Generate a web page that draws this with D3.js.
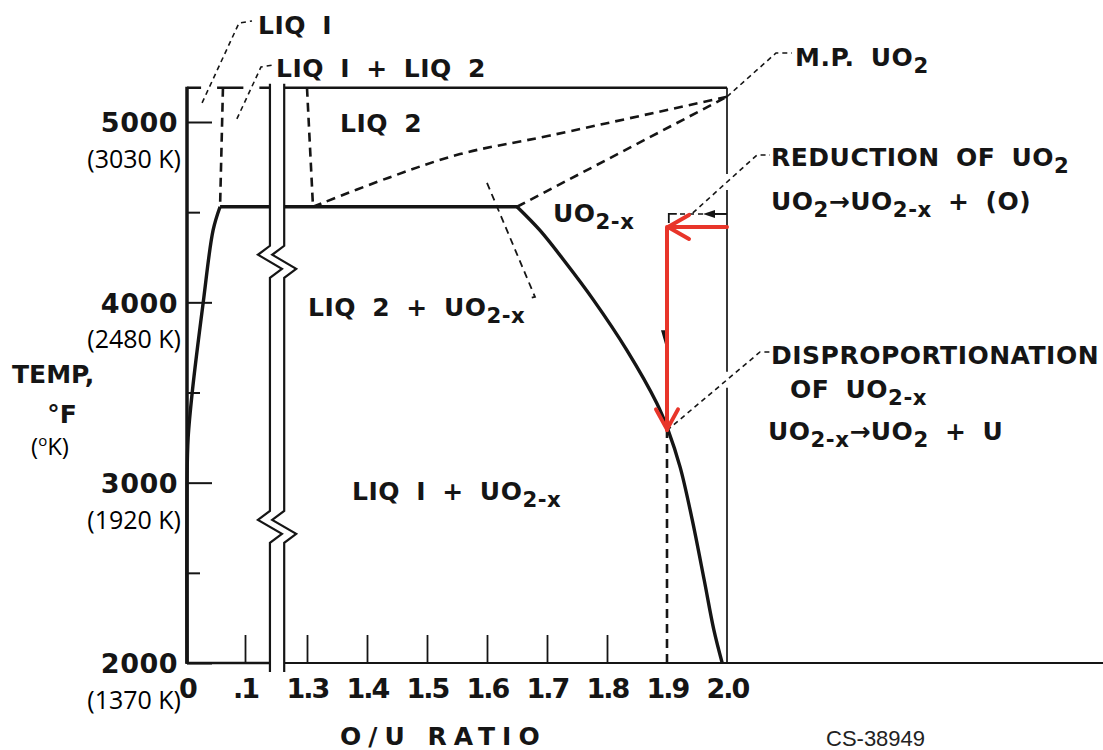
<!DOCTYPE html>
<html lang="en">
<head>
<meta charset="UTF-8">
<script src="https://d3js.org/d3.v7.min.js"></script>
<title>U - O phase diagram</title>
<style>
    body { margin: 0; background: #fff; }
</style>
</head>
<body>
<script>
    // axis values
    let yTicks = [2000, 3000, 4000, 5000];
    let yMinorTicks = [2500, 3500, 4500];
    let kelvinLabels = ["(1370 K)", "(1920 K)", "(2480 K)", "(3030 K)"];
    let xTicksLeft = [0, 0.1];
    let xTicksRight = [1.3, 1.4, 1.5, 1.6, 1.7, 1.8, 1.9, 2.0];
    let xTickMarksLeft = [0.1];
    let xTickMarksRight = [1.3, 1.4, 1.5, 1.6, 1.7, 1.8];

    // phase diagram values (O/U ratio, deg F)
    let tTop = 5190;
    let tMonotectic = 4530;
    let xBreakLeft = 0.143, xBreakRight = 1.262;
    let breakTemps = [4225, 2755];
    let liq1Boundary = [[0, 2000], [0, 3000], [0.002, 3250], [0.009, 3500], [0.028, 4000], [0.045, 4400], [0.057, 4530]];
    let uo2xBoundary = [[1.65, 4530], [1.688, 4400], [1.73, 4225], [1.777, 4015], [1.833, 3735], [1.883, 3440],
        [1.902, 3290], [1.922, 3085], [1.942, 2795], [1.962, 2460], [1.978, 2185], [1.992, 2000]];
    let liq2Liquidus = [[1.31, 4530], [1.435, 4690], [1.555, 4822], [1.705, 4925], [2.0, 5140]];
    let uo2Solidus = [[1.65, 4530], [2.0, 5140]];
    let liq1Dashed = [[0.062, 5190], [0.057, 4530]];
    let liq2Dashed = [[1.30, 5190], [1.31, 4530]];
    let liq2UoLeader = [[1.60, 4662], [1.68, 4030], [1.667, 4020]];
    let line19 = [[1.9, 2000], [1.9, 4418]];
    let reductionPath = [[2.0, 4418], [1.9, 4418], [1.9, 3290]];
    let reductionMark = [[2.0, 4490], [1.97, 4490], [1.903, 4490]];

    let labels = [
        { x: 258, y: 34, parts: ["LIQ I"] },
        { x: 276, y: 77, parts: ["LIQ I + LIQ 2"] },
        { x: 340, y: 132, parts: ["LIQ 2"] },
        { x: 795, y: 66, parts: ["M.P. UO", ["2"]] },
        { x: 771, y: 166, parts: ["REDUCTION OF UO", ["2"]] },
        { x: 771, y: 210, parts: ["UO", ["2"], "\u2192UO", ["2-x"], " + (O)"] },
        { x: 553, y: 222, parts: ["UO", ["2-x"]] },
        { x: 308, y: 316, parts: ["LIQ 2 + UO", ["2-x"]] },
        { x: 771, y: 364, parts: ["DISPROPORTIONATION"] },
        { x: 790, y: 398, parts: ["OF UO", ["2-x"]] },
        { x: 768, y: 440, parts: ["UO", ["2-x"], "\u2192UO", ["2"], " + U"] },
        { x: 352, y: 500, parts: ["LIQ I + UO", ["2-x"]] }
    ];

    let leroy = "'DejaVu Sans', sans-serif";
    let red = "#e8352a";

    let xLeft = d3.scaleLinear().domain([0, 0.1]).range([187, 245]);
    let xRight = d3.scaleLinear().domain([1.3, 2.0]).range([307, 727]);
    let xPos = v => v < 1 ? xLeft(v) : xRight(v);
    let y = d3.scaleLinear().domain([2000, 5000]).range([663, 122]);

    let line = d3.line().x(d => xPos(d[0])).y(d => y(d[1]));
    let smooth = d3.line().x(d => xPos(d[0])).y(d => y(d[1])).curve(d3.curveCatmullRom.alpha(0.5));

    let svg = d3.select("body").append("svg")
        .attr("width", 1103)
        .attr("height", 750)
        .style("background", "#fff");

    let ink = "#151515";

    // leader lines (start on the diagram, end beside the label)
    let leaders = [
        { from: [0.026, 5106], to: [[239, 23], [252, 21]] },
        { from: [0.086, 5017], to: [[261, 67], [273, 65]] },
        { from: [2.0, 5140], to: [[776, 53], [792, 53]] },
        { from: [1.943, 4496], to: [[757, 155], [770, 155]] },
        { from: [1.9, 3290], to: [[760, 352], [770, 352]] }
    ];
    let leaderPts = leaders.map(l => [[xPos(l.from[0]), y(l.from[1])]].concat(l.to));

    // where leaders cut through the frame, leave gaps
    function gapsOn(horizontal, c, lo, hi) {
        let gaps = [];
        leaderPts.forEach(pts => {
            for (let i = 0; i < pts.length - 1; i++) {
                let a = pts[i], b = pts[i + 1];
                let k = horizontal ? 1 : 0, o = horizontal ? 0 : 1;
                if ((a[k] - c) * (b[k] - c) < 0) {
                    let t = (c - a[k]) / (b[k] - a[k]);
                    let p = a[o] + t * (b[o] - a[o]);
                    if (p > lo && p < hi) gaps.push(p);
                }
            }
        });
        gaps.sort((a, b) => a - b);
        let segs = [], start = lo;
        gaps.forEach(g => { segs.push([start, g - 8]); start = g + 8; });
        segs.push([start, hi]);
        return segs;
    }

    let frame = svg.append("g").attr("stroke", ink).attr("fill", "none");
    let yTopPx = y(tTop), yBotPx = y(2000);
    let xl0 = xLeft(0), xl1 = xLeft(xBreakLeft), xr0 = xRight(xBreakRight), xr1 = xRight(2.0);

    // y axis (thick)
    frame.append("line").attr("x1", xl0).attr("x2", xl0).attr("y1", yTopPx - 1).attr("y2", yBotPx + 1)
        .attr("stroke-width", 3.5);
    // top border
    gapsOn(true, yTopPx, xl0, xl1).concat(gapsOn(true, yTopPx, xr0, xr1)).forEach(s => {
        frame.append("line").attr("x1", s[0]).attr("x2", s[1]).attr("y1", yTopPx).attr("y2", yTopPx)
            .attr("stroke-width", 2.5);
    });
    // right border at O/U = 2.0
    gapsOn(false, xr1, yTopPx, yBotPx).forEach(s => {
        frame.append("line").attr("x1", xr1).attr("x2", xr1).attr("y1", s[0]).attr("y2", s[1])
            .attr("stroke-width", 1.7);
    });
    // x axis
    frame.append("line").attr("x1", xl0).attr("x2", xl1).attr("y1", yBotPx).attr("y2", yBotPx).attr("stroke-width", 2.5);
    frame.append("line").attr("x1", xr0).attr("x2", 1103).attr("y1", yBotPx).attr("y2", yBotPx).attr("stroke-width", 2.2);

    // axis break lines with zigzags
    let zig = [[0, -16], [-12, -7], [12, 7], [0, 16]];
    [xl1, xr0].forEach(bx => {
        let pts = [[bx, yTopPx - 4]];
        breakTemps.forEach(t => zig.forEach(z => pts.push([bx + z[0], y(t) + z[1]])));
        pts.push([bx, yBotPx + 9]);
        frame.append("path").attr("d", d3.line()(pts)).attr("stroke-width", 2.2);
    });

    // y ticks
    let yAxis = svg.append("g").attr("transform", `translate(${xl0},0)`)
        .call(d3.axisLeft(y).tickValues(yTicks).tickSize(-25).tickPadding(9).tickFormat(d3.format("d")));
    let yMinor = svg.append("g").attr("transform", `translate(${xl0},0)`)
        .call(d3.axisLeft(y).tickValues(yMinorTicks).tickSize(-13).tickFormat(""));
    [yAxis, yMinor].forEach(g => {
        g.select(".domain").remove();
        g.selectAll("line").attr("stroke", ink).attr("stroke-width", 2);
    });
    yAxis.selectAll("text")
        .attr("font-family", leroy).attr("font-weight", "bold").attr("font-size", 27)
        .attr("letter-spacing", 0.5).attr("fill", ink).attr("dy", "0.36em");

    // kelvin equivalents
    svg.append("g").selectAll("text").data(yTicks).join("text")
        .attr("x", 181)
        .attr("y", d => y(d) + 46)
        .attr("text-anchor", "end")
        .attr("font-family", "'Open Sans', sans-serif")
        .attr("font-size", 25)
        .attr("fill", "#000")
        .text((d, i) => kelvinLabels[i]);

    // x ticks
    let xMarksL = svg.append("g").attr("transform", `translate(0,${yBotPx})`)
        .call(d3.axisBottom(xLeft).tickValues(xTickMarksLeft).tickSize(-28).tickFormat(""));
    let xMarksR = svg.append("g").attr("transform", `translate(0,${yBotPx})`)
        .call(d3.axisBottom(xRight).tickValues(xTickMarksRight).tickSize(-28).tickFormat(""));
    let xLabL = svg.append("g").attr("transform", `translate(0,${yBotPx})`)
        .call(d3.axisBottom(xLeft).tickValues(xTicksLeft).tickSize(0).tickPadding(16)
            .tickFormat(d => d === 0 ? "0" : String(d).replace("0.", ".")));
    let xLabR = svg.append("g").attr("transform", `translate(0,${yBotPx})`)
        .call(d3.axisBottom(xRight).tickValues(xTicksRight).tickSize(0).tickPadding(16).tickFormat(d3.format(".1f")));
    [xMarksL, xMarksR, xLabL, xLabR].forEach(g => {
        g.select(".domain").remove();
        g.selectAll("line").attr("stroke", ink).attr("stroke-width", 1.8);
        g.selectAll("text")
            .attr("font-family", leroy).attr("font-weight", "bold").attr("font-size", 27)
            .attr("letter-spacing", -2).attr("fill", ink);
    });

    // solid phase boundaries
    let bounds = svg.append("g").attr("fill", "none").attr("stroke", ink).attr("stroke-width", 3.4)
        .attr("stroke-linejoin", "round");
    bounds.append("path").attr("d", smooth(liq1Boundary));
    bounds.append("path").attr("d", smooth(uo2xBoundary));
    bounds.append("path").attr("d", line([[liq1Boundary[liq1Boundary.length - 1][0], tMonotectic], [xBreakLeft, tMonotectic]]));
    bounds.append("path").attr("d", line([[xBreakRight, tMonotectic], [uo2xBoundary[0][0], tMonotectic]]));

    // dashed boundaries
    let dashed = svg.append("g").attr("fill", "none").attr("stroke", ink).attr("stroke-width", 2.6)
        .attr("stroke-dasharray", "9,6");
    dashed.append("path").attr("d", smooth(liq2Liquidus));
    dashed.append("path").attr("d", line(uo2Solidus));
    dashed.append("path").attr("d", line(liq1Dashed));
    dashed.append("path").attr("d", line(liq2Dashed));
    dashed.append("path").attr("d", line(line19));
    dashed.append("path").attr("d", line(liq2UoLeader)).attr("stroke-width", 1.8).attr("stroke-dasharray", "7,5");

    // small arrowhead on the 1.9 line
    let ah = [xRight(1.9) - 2, y(3790)];
    svg.append("path")
        .attr("d", d3.line()([[ah[0] - 4, ah[1] - 10], [ah[0] + 3, ah[1] - 10], [ah[0], ah[1] + 4]]) + "Z")
        .attr("fill", ink);

    // reduction marker
    let rm = reductionMark.map(d => [xPos(d[0]), y(d[1])]);
    svg.append("line").attr("x1", rm[0][0]).attr("x2", rm[1][0]).attr("y1", rm[0][1]).attr("y2", rm[1][1])
        .attr("stroke", ink).attr("stroke-width", 2);
    svg.append("path")
        .attr("d", d3.line()([[rm[1][0] - 6, rm[1][1]], [rm[1][0] + 6, rm[1][1] - 4], [rm[1][0] + 6, rm[1][1] + 4]]) + "Z")
        .attr("fill", ink);
    svg.append("line").attr("x1", rm[1][0] - 6).attr("x2", rm[2][0] + 8).attr("y1", rm[1][1]).attr("y2", rm[2][1])
        .attr("stroke", ink).attr("stroke-width", 1.6).attr("stroke-dasharray", "5,4");
    svg.append("path")
        .attr("d", d3.line()([[rm[2][0] + 8, rm[2][1]], [rm[2][0], rm[2][1]], [rm[2][0], rm[2][1] + 9]]))
        .attr("fill", "none").attr("stroke", ink).attr("stroke-width", 1.8);

    // leaders
    svg.append("g").selectAll("path").data(leaderPts).join("path")
        .attr("d", d => d3.line()(d))
        .attr("fill", "none")
        .attr("stroke", ink)
        .attr("stroke-width", 1.6)
        .attr("stroke-dasharray", "5,4");

    // labels with subscripts
    function addLabel(lab) {
        let size = lab.size || 25;
        let t = svg.append("text")
            .attr("x", lab.x).attr("y", lab.y)
            .attr("font-family", leroy).attr("font-weight", "bold").attr("font-size", size)
            .attr("letter-spacing", 0.5).attr("word-spacing", 7).attr("fill", ink);
        let shift = 0;
        lab.parts.forEach(p => {
            let sub = Array.isArray(p);
            let s = t.append("tspan").text(sub ? p[0] : p);
            let target = sub ? 7 : 0;
            if (target !== shift) s.attr("dy", target - shift);
            if (sub) s.attr("font-size", size * 0.85);
            shift = target;
        });
    }
    labels.forEach(addLabel);

    // axis titles
    svg.append("text").attr("x", 12).attr("y", 383)
        .attr("font-family", leroy).attr("font-weight", "bold").attr("font-size", 25).attr("fill", ink)
        .text("TEMP,");
    svg.append("text").attr("x", 62).attr("y", 423).attr("text-anchor", "middle")
        .attr("font-family", leroy).attr("font-weight", "bold").attr("font-size", 25).attr("fill", ink)
        .text("\u00b0F");
    let kUnit = svg.append("text").attr("x", 50).attr("y", 455).attr("text-anchor", "middle")
        .attr("font-family", "'Open Sans', sans-serif").attr("font-size", 24).attr("fill", "#000");
    kUnit.append("tspan").text("(");
    kUnit.append("tspan").attr("dy", -9).attr("font-size", 15).text("o");
    kUnit.append("tspan").attr("dy", 9).text("K)");

    svg.append("text").attr("x", 340).attr("y", 745)
        .attr("font-family", leroy).attr("font-weight", "bold").attr("font-size", 25)
        .attr("letter-spacing", 7).attr("fill", ink)
        .text("O/U RATIO");
    svg.append("text").attr("x", 826).attr("y", 746)
        .attr("font-family", "'Liberation Sans Narrow', 'Liberation Sans', sans-serif").attr("font-size", 22)
        .attr("fill", "#222")
        .text("CS-38949");

    // red path: reduction then cooling to disproportionation
    let rp = reductionPath.map(d => [xPos(d[0]), y(d[1])]);
    let reds = svg.append("g").attr("fill", "none").attr("stroke", red).attr("stroke-width", 4)
        .attr("stroke-linecap", "round").attr("stroke-linejoin", "round");
    reds.append("path").attr("d", d3.line()(rp));
    reds.append("path").attr("d", d3.line()([[rp[1][0] + 22, rp[1][1] - 12], [rp[1][0] + 1, rp[1][1]], [rp[1][0] + 22, rp[1][1] + 12]]));
    reds.append("path").attr("d", d3.line()([[rp[2][0] - 11, rp[2][1] - 21], [rp[2][0], rp[2][1] - 1], [rp[2][0] + 11, rp[2][1] - 21]]));
</script>
</body>
</html>
